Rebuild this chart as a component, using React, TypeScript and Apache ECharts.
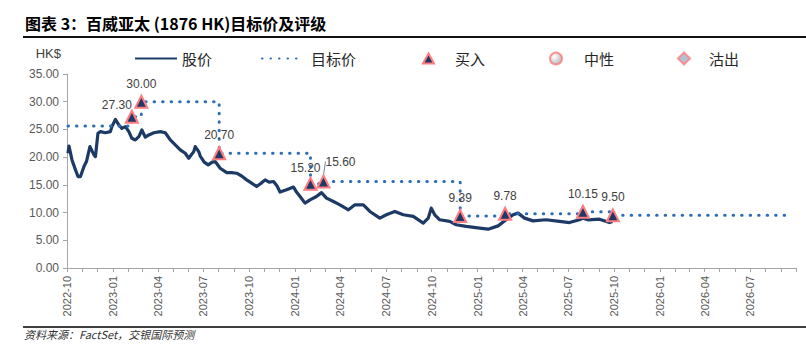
import React, { useEffect, useRef } from 'react';
import * as echarts from 'echarts';

// ---- Data ----
const priceDates = [
  '2022-10-03','2022-10-05','2022-10-11','2022-10-18','2022-10-23','2022-10-28','2022-11-04','2022-11-09','2022-11-16','2022-11-24',
  '2022-11-27','2022-12-02','2022-12-07','2022-12-17','2022-12-27','2022-12-30','2023-01-06','2023-01-13','2023-01-19','2023-01-26',
  '2023-02-02','2023-02-08','2023-02-15','2023-02-22','2023-02-28','2023-03-07','2023-03-14','2023-03-24','2023-04-06','2023-04-16',
  '2023-04-26','2023-05-06','2023-05-16','2023-05-26','2023-06-02','2023-06-12','2023-06-15','2023-06-22','2023-06-25','2023-07-03',
  '2023-07-11','2023-07-19','2023-07-25','2023-08-04','2023-08-17','2023-08-27','2023-09-06','2023-09-16','2023-09-26','2023-10-06',
  '2023-10-16','2023-10-25','2023-11-02','2023-11-10','2023-11-19','2023-11-26','2023-12-02','2023-12-15','2023-12-29','2024-01-04',
  '2024-01-11','2024-01-21','2024-01-31','2024-02-13','2024-02-23','2024-03-04','2024-03-18','2024-03-31','2024-04-17','2024-04-30',
  '2024-05-17','2024-05-30','2024-06-19','2024-07-02','2024-07-19','2024-08-05','2024-08-25','2024-09-14','2024-09-24','2024-09-30',
  '2024-10-07','2024-10-17','2024-11-06','2024-11-19','2024-12-09','2025-01-05','2025-01-22','2025-02-11','2025-02-27','2025-03-13',
  '2025-03-23','2025-04-05','2025-04-22','2025-05-18','2025-06-14','2025-07-04','2025-07-24','2025-07-31','2025-08-10','2025-09-02',
  '2025-09-22','2025-09-28'
];
const priceValues = [
  20.7, 22.0, 19.5, 17.7, 16.5, 16.5, 18.3, 19.2, 21.9, 20.4,
  20.1, 24.3, 24.6, 24.4, 24.6, 25.5, 26.8, 25.8, 25.2, 25.5,
  24.6, 23.4, 23.1, 23.7, 24.9, 23.6, 24.0, 24.4, 24.6, 24.4,
  23.1, 22.2, 21.3, 20.7, 19.8, 21.0, 21.9, 21.0, 20.2, 19.1,
  18.6, 19.1, 19.2, 18.0, 17.2, 17.2, 17.1, 16.6, 15.9, 15.3,
  14.7, 15.3, 15.9, 15.5, 15.6, 14.8, 13.7, 14.1, 14.6, 13.7,
  12.9, 11.7, 12.3, 12.9, 13.6, 12.6, 12.0, 11.4, 10.5, 11.4,
  11.4, 10.2, 9.0, 9.6, 10.2, 9.6, 9.3, 8.1, 9.0, 10.8,
  9.6, 8.7, 8.4, 7.8, 7.5, 7.2, 7.0, 7.6, 8.7, 9.6,
  9.9, 9.0, 8.5, 8.7, 8.4, 8.2, 8.7, 9.0, 8.7, 8.8,
  8.2, 8.4
];
const targetDates = ['2022-10-03','2023-02-08','2023-02-27','2023-08-02','2024-02-01','2024-02-27','2024-11-27','2025-02-25','2025-07-31','2025-09-29','2026-09-24'];
const targetValues = [25.6, 27.3, 30.0, 20.7, 15.2, 15.6, 9.39, 9.78, 10.15, 9.5, 9.5];
const buyDates = ['2023-02-08','2023-02-27','2023-08-02','2024-02-01','2024-02-27','2024-11-27','2025-02-25','2025-07-31','2025-09-29'];
const buyValues = [27.3, 30.0, 20.7, 15.2, 15.6, 9.39, 9.78, 10.15, 9.5];
const quarterLabels = ['2022-10','2023-01','2023-04','2023-07','2023-10','2024-01','2024-04','2024-07','2024-10','2025-01','2025-04','2025-07','2025-10','2026-01','2026-04','2026-07'];
const axisStart = '2022-10-01';
const axisEnd = '2026-10-01';
const yMin = 0, yMax = 35, yStep = 5;

const title = '图表 3：百威亚太 (1876 HK)目标价及评级';
const source = '资料来源：FactSet，交银国际预测';

const ts = (s: string) => {
  const [y, m, d] = s.split('-').map(Number);
  return new Date(y, m - 1, d || 1).getTime();
};

const monthTicks = (() => {
  const out: number[] = [];
  const s = new Date(ts(axisStart));
  const e = ts(axisEnd);
  let y = s.getFullYear(), m = s.getMonth();
  while (new Date(y, m, 1).getTime() <= e) {
    out.push(new Date(y, m, 1).getTime());
    m++; if (m > 11) { m = 0; y++; }
  }
  return out;
})();

export default function App() {
  const ref = useRef<HTMLDivElement>(null);
  useEffect(() => {
    if (!ref.current) return;
    const chart = echarts.init(ref.current, null, { renderer: 'svg' });
    const cjk = '"Noto Sans CJK SC", "Noto Sans", sans-serif';
    const latin = '"Liberation Sans", Arial, sans-serif';
    const pink = '#FF7C80';
    const navy = '#1F3864';
    const priceColor = '#1D3A66';
    // label shifts (px) by marker index
    const labelShift: Record<number, { dx: number; dy: number }> = {
      0: { dx: -15, dy: 6 },
      3: { dx: -5, dy: 2 },
      4: { dx: 17, dy: -2 },
    };

    const legendBase = {
      top: 46, orient: 'horizontal', itemHeight: 12, itemWidth: 12,
      textStyle: { fontFamily: cjk, fontSize: 15, color: '#262626' },
      selectedMode: false,
    };

    chart.setOption({
      animation: false,
      backgroundColor: '#fff',
      grid: { left: 67, right: 10, top: 74, bottom: 83, containLabel: false },
      legend: [
        { ...legendBase, left: 129, data: ['股价'], itemWidth: 42, itemStyle: { opacity: 0 } },
        { ...legendBase, left: 256, data: ['目标价'], itemWidth: 42, itemStyle: { opacity: 0 }, textStyle: { ...legendBase.textStyle, padding: [0, 0, 0, 2] } },
        { ...legendBase, left: 417, data: ['买入'], itemWidth: 11, itemHeight: 10, textStyle: { ...legendBase.textStyle, padding: [0, 0, 0, 16] } },
        { ...legendBase, left: 544, data: ['中性'], textStyle: { ...legendBase.textStyle, padding: [0, 0, 0, 17] } },
        { ...legendBase, left: 672, data: ['沽出'], textStyle: { ...legendBase.textStyle, padding: [0, 0, 0, 14] } },
      ],
      xAxis: {
        type: 'value',
        min: ts(axisStart),
        max: ts(axisEnd),
        axisLine: { show: true, lineStyle: { color: '#A6A6A6', width: 1 } },
        axisTick: { show: true, length: 4, customValues: monthTicks, lineStyle: { color: '#A6A6A6' } },
        axisLabel: {
          customValues: quarterLabels.map(ts),
          rotate: 90,
          margin: 8,
          fontSize: 11,
          fontFamily: latin,
          color: '#595959',
          hideOverlap: false,
          showMinLabel: true,
          showMaxLabel: true,
          formatter: (v: number) => {
            const d = new Date(v);
            return d.getFullYear() + '-' + String(d.getMonth() + 1).padStart(2, '0');
          },
        },
        splitLine: { show: false },
      },
      yAxis: {
        type: 'value',
        min: yMin, max: yMax, interval: yStep,
        name: 'HK$',
        nameLocation: 'end',
        nameGap: 14,
        nameTextStyle: { fontFamily: latin, fontSize: 13, color: '#404040', align: 'right', padding: [0, 6, 0, 0] },
        axisLine: { show: true, lineStyle: { color: '#A6A6A6', width: 1 } },
        axisTick: { show: true, length: 4, lineStyle: { color: '#A6A6A6' } },
        axisLabel: { fontSize: 12, fontFamily: latin, color: '#595959', margin: 8, formatter: (v: number) => v.toFixed(2) },
        splitLine: { show: false },
      },
      series: [
        {
          name: '股价', type: 'line', symbol: 'none',
          data: priceDates.map((d, i) => [ts(d), priceValues[i]]),
          lineStyle: { color: priceColor, width: 3.2, join: 'round' },
          itemStyle: { color: priceColor },
          z: 2,
        },
        {
          name: '目标价', type: 'line', symbol: 'none', step: 'end',
          data: targetDates.map((d, i) => [ts(d), targetValues[i]]),
          lineStyle: { color: '#2E6DB4', width: 3, type: [0.5, 8], cap: 'round' },
          itemStyle: { color: '#2E6DB4' },
          z: 3,
        },
        {
          name: '买入', type: 'scatter', symbol: 'triangle', symbolSize: 12,
          itemStyle: { color: navy, borderColor: pink, borderWidth: 2, opacity: 1 },
          data: buyDates.map((d, i) => ({
            value: [ts(d), buyValues[i]],
            labelLine: { show: i === 4 },
          })),
          label: {
            show: true, position: 'top', distance: 5,
            fontFamily: latin, fontSize: 12, color: '#404040',
            formatter: (p: any) => Number(p.value[1]).toFixed(2),
          },
          labelLayout: (p: any) => labelShift[p.dataIndex] || {},
          labelLine: { show: true, length2: 0, minTurnAngle: 0, lineStyle: { color: '#7F7F7F', width: 1 } },
          z: 5,
        },
        {
          name: '中性', type: 'scatter', symbol: 'circle', symbolSize: 10, data: [],
          itemStyle: {
            color: new echarts.graphic.RadialGradient(0.35, 0.35, 0.8, [
              { offset: 0, color: '#FFFFFF' }, { offset: 1, color: '#9A9A9A' },
            ]),
            borderColor: pink, borderWidth: 1.5,
          },
        },
        {
          name: '沽出', type: 'scatter', symbol: 'diamond', symbolSize: 10, data: [],
          itemStyle: { color: '#9EB4C4', borderColor: pink, borderWidth: 1.5 },
        },
      ],
      graphic: [
        { type: 'text', left: 25, top: 15, style: { text: title, font: `bold 16px ${cjk}`, fill: '#000' } },
        { type: 'line', shape: { x1: 23, y1: 37, x2: 806, y2: 37 }, style: { stroke: '#111', lineWidth: 2 } },
        { type: 'line', shape: { x1: 23, y1: 327, x2: 806, y2: 327 }, style: { stroke: '#404040', lineWidth: 2 } },
        { type: 'text', left: 24, top: 328, style: { text: source, font: `italic 11px ${cjk}`, fill: '#333' } },
      ],
    });
    return () => chart.dispose();
  }, []);
  return <div ref={ref} style={{ position: 'fixed', left: 0, top: 0, width: 806, height: 351 }} />;
}
